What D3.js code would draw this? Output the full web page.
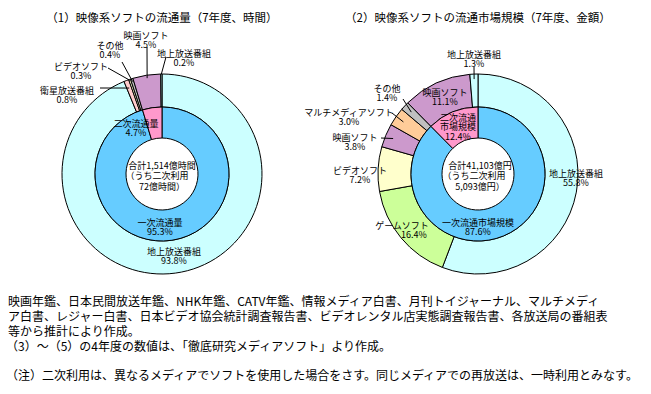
<!DOCTYPE html>
<html>
<head>
<meta charset="utf-8">
<script src="https://cdn.jsdelivr.net/npm/d3@7"></script>
<style>
  body { margin: 0; background: #fff; }
  text { font-family: "Noto Sans CJK JP", sans-serif; fill: #000; }
</style>
</head>
<body>
<div id="vis"></div>
<script>
// (1) 流通量
const leftTitle = "（1）映像系ソフトの流通量（7年度、時間）";
const leftOuterNames = ["地上放送番組", "衛星放送番組", "ビデオソフト", "その他", "映画ソフト", "地上放送番組"];
const leftOuterValues = [93.8, 0.8, 0.3, 0.4, 4.5, 0.2];
const leftInnerNames = ["一次流通量", "二次流通量"];
const leftInnerValues = [95.3, 4.7];
const leftCenter = ["合計1,514億時間", "（うち二次利用", "72億時間）"];

// (2) 流通市場規模
const rightTitle = "（2）映像系ソフトの流通市場規模（7年度、金額）";
const rightOuterNames = ["地上放送番組", "ゲームソフト", "ビデオソフト", "映画ソフト", "マルチメディアソフト", "その他", "映画ソフト", "地上放送番組"];
const rightOuterValues = [55.8, 16.4, 7.2, 3.8, 3.0, 1.4, 11.1, 1.3];
const rightInnerNames = ["一次流通市場規模", "二次流通\n市場規模"];
const rightInnerValues = [87.6, 12.4];
const rightCenter = ["合計41,103億円", "（うち二次利用", "5,093億円）"];

const notes = [
  "映画年鑑、日本民間放送年鑑、NHK年鑑、CATV年鑑、情報メディア白書、月刊トイジャーナル、マルチメディ",
  "ア白書、レジャー白書、日本ビデオ協会統計調査報告書、ビデオレンタル店実態調査報告書、各放送局の番組表",
  "等から推計により作成。",
  "（3）～（5）の4年度の数値は、「徹底研究メディアソフト」より作成。"
];
const note2 = "（注）二次利用は、異なるメディアでソフトを使用した場合をさす。同じメディアでの再放送は、一時利用とみなす。";

const colorOf = {
  "地上放送番組": "#CCFFFF",
  "衛星放送番組": "#FFCCCC",
  "ビデオソフト": "#FFFFCC",
  "その他": "#C0C0C0",
  "映画ソフト": "#CC99CC",
  "ゲームソフト": "#CCFF99",
  "マルチメディアソフト": "#FFCC99",
  "inner0": "#66CCFF",
  "inner1": "#FF99CC"
};

const WIDTH = 651, HEIGHT = 394;
const R_OUT = 100, R_MID = 67, R_IN = 36;

const svg = d3.select("#vis").append("svg")
  .attr("width", WIDTH).attr("height", HEIGHT);

// label layout (x, y of first line centre; lead = [x, y, radius] leader line)
const leftOuterLayout = [
  {x: 174, y: 251},
  {x: 67, y: 90, lead: [100, 88, 92]},
  {x: 81, y: 66, lead: [108, 68, 99]},
  {x: 110, y: 45, lead: [122, 62, 97]},
  {x: 146, y: 35, lead: [147, 47, 97]},
  {x: 184, y: 53, lead: [166, 57, 100]}
];
const leftInnerLayout = [{x: 160, y: 222}, {x: 136, y: 123}];
const rightOuterLayout = [
  {x: 576, y: 173},
  {x: 402, y: 225, dx2: 12},
  {x: 360, y: 170},
  {x: 355, y: 137, lead: [381, 138, 92]},
  {x: 349, y: 112, lead: [392, 113, 91]},
  {x: 387, y: 88, lead: [403, 99, 91]},
  {x: 445, y: 92},
  {x: 474, y: 54, lead: [474, 67, 95]}
];
const rightInnerLayout = [{x: 478, y: 222}, {x: 458, y: 117}];

// one <text> with a tspan per line
function multiText(x, y, lines, step, size, dxs) {
  const t = svg.append("text")
    .attr("x", x).attr("y", y)
    .attr("text-anchor", "middle")
    .attr("font-size", size);
  lines.forEach((s, k) => {
    t.append("tspan")
      .attr("x", x + (dxs ? dxs[k] : 0))
      .attr("y", y + k * step)
      .attr("dominant-baseline", "central")
      .text(s);
  });
  return t;
}

function drawDonut(cx, cy, title, outerNames, outerValues, innerNames, innerValues,
                   centerLines, outerLayout, innerLayout, centerDx) {
  const g = svg.append("g").attr("transform", `translate(${cx},${cy})`);
  const pie = d3.pie().sort(null).value(d => d);

  const outerArcs = pie(outerValues);
  const innerArcs = pie(innerValues);
  const arcOuter = d3.arc().innerRadius(R_MID).outerRadius(R_OUT);
  const arcInner = d3.arc().innerRadius(R_IN).outerRadius(R_MID);

  g.selectAll(".outer")
    .data(outerArcs)
    .join("path")
    .attr("class", "outer")
    .attr("d", arcOuter)
    .attr("fill", (d, i) => colorOf[outerNames[i]])
    .attr("stroke", "#000")
    .attr("stroke-width", 1);

  g.selectAll(".inner")
    .data(innerArcs)
    .join("path")
    .attr("class", "inner")
    .attr("d", arcInner)
    .attr("fill", (d, i) => colorOf["inner" + i])
    .attr("stroke", "#000")
    .attr("stroke-width", 1);

  // leader lines
  outerArcs.forEach((d, i) => {
    const lay = outerLayout[i];
    if (!lay.lead) return;
    const mid = (d.startAngle + d.endAngle) / 2;
    const p = d3.pointRadial(mid, lay.lead[2]);
    svg.append("line")
      .attr("x1", lay.lead[0]).attr("y1", lay.lead[1])
      .attr("x2", cx + p[0]).attr("y2", cy + p[1])
      .attr("stroke", "#000").attr("stroke-width", 1);
  });

  function label(name, value, lay) {
    const lines = name.split("\n").concat([value.toFixed(1) + "%"]);
    const dxs = lines.map((s, k) => (k === lines.length - 1 && lay.dx2) ? lay.dx2 : 0);
    multiText(lay.x, lay.y, lines, 9.5, 9, dxs);
  }
  outerArcs.forEach((d, i) => label(outerNames[i], d.data, outerLayout[i]));
  innerArcs.forEach((d, i) => label(innerNames[i], d.data, innerLayout[i]));

  multiText(cx, cy - 9, centerLines, 10.5, 9, centerDx);

  svg.append("text")
    .attr("x", cx)
    .attr("y", 17)
    .attr("text-anchor", "middle")
    .attr("dominant-baseline", "central")
    .attr("font-size", 11.5)
    .text(title);
}

drawDonut(162, 174, leftTitle, leftOuterNames, leftOuterValues, leftInnerNames, leftInnerValues,
  leftCenter, leftOuterLayout, leftInnerLayout, [0, -5, 0]);
drawDonut(478, 174, rightTitle, rightOuterNames, rightOuterValues, rightInnerNames, rightInnerValues,
  rightCenter, rightOuterLayout, rightInnerLayout, [2, -4, 2]);

// footnotes
const notesText = svg.append("text").attr("font-size", 12);
notes.forEach((s, k) => {
  notesText.append("tspan")
    .attr("x", k === 3 ? 6 : 8)
    .attr("y", 300 + k * 15)
    .attr("dominant-baseline", "central")
    .text(s);
});
svg.append("text")
  .attr("x", 6)
  .attr("y", 374)
  .attr("dominant-baseline", "central")
  .attr("font-size", 12)
  .text(note2);
</script>
</body>
</html>
